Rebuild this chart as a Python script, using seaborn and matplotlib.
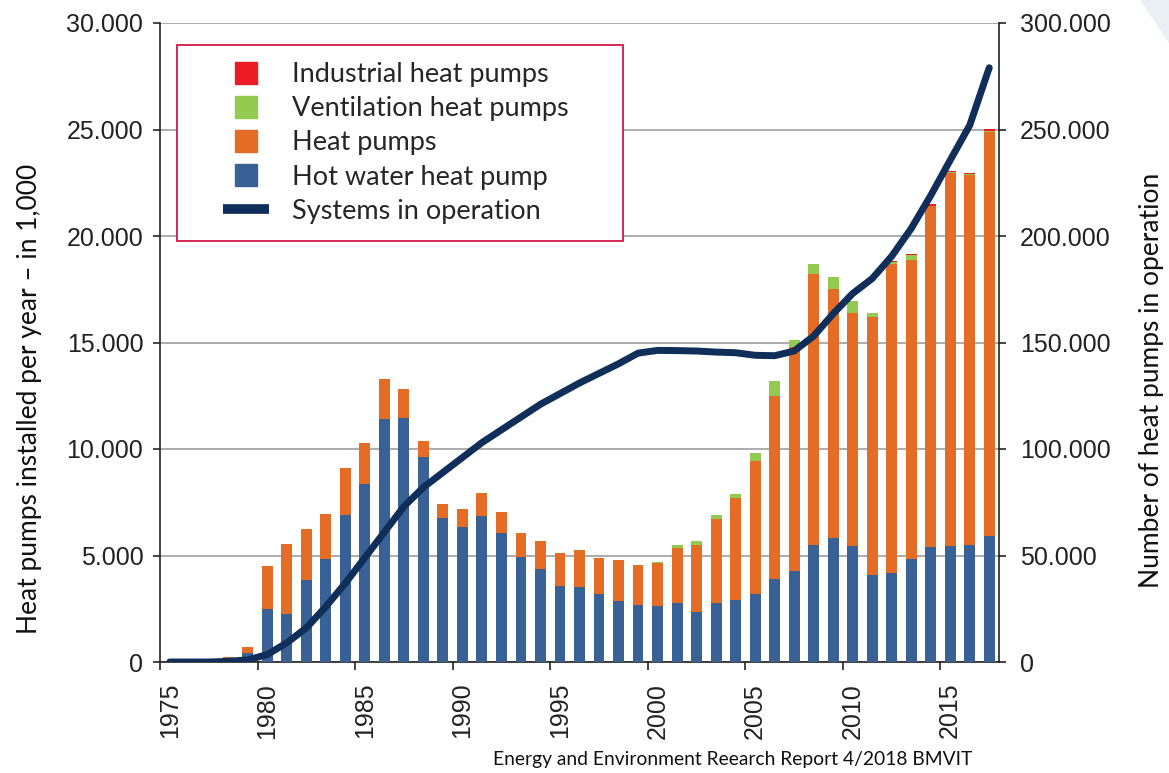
import numpy as np
import pandas as pd
import matplotlib
matplotlib.use("Agg")
import matplotlib.pyplot as plt
import seaborn as sns
from matplotlib.lines import Line2D
from matplotlib.patches import Rectangle, Polygon
from matplotlib.ticker import FuncFormatter, FixedLocator

# ---------------- data ----------------
years = list(range(1975, 2018))
hot_water = [0, 0, 0, 50, 400, 2500, 2270, 3830, 4820, 6920,
             8360, 11390, 11440, 9610, 6770, 6350, 6870, 6070, 4940, 4350,
             3570, 3540, 3190, 2860, 2680, 2630, 2780, 2360, 2760, 2900,
             3170, 3900, 4250, 5500, 5830, 5450, 4080, 4200, 4840, 5400,
             5450, 5500, 5920]
heat_pumps = [0, 0, 0, 200, 300, 2020, 3260, 2430, 2110, 2170,
              1940, 1900, 1380, 780, 630, 820, 1050, 970, 1100, 1330,
              1530, 1720, 1710, 1930, 1870, 2040, 2590, 3130, 3940, 4800,
              6250, 8600, 10540, 12710, 11690, 10940, 12100, 14500, 14030, 15990,
              17500, 17360, 18970]
ventilation = [0, 0, 0, 0, 0, 0, 0, 0, 0, 0,
               0, 0, 0, 0, 0, 0, 0, 0, 0, 0,
               0, 0, 0, 0, 0, 40, 140, 200, 190, 200,
               370, 680, 310, 490, 570, 570, 190, 100, 220, 40,
               40, 40, 60]
industrial = [0, 0, 0, 0, 0, 0, 0, 0, 0, 0,
              0, 0, 0, 0, 0, 0, 0, 0, 0, 0,
              0, 0, 0, 0, 0, 0, 0, 0, 0, 0,
              0, 0, 0, 0, 0, 0, 0, 40, 80, 50,
              50, 50, 60]
in_operation = [0, 0, 0, 300, 1000, 3500, 9000, 16000, 26000, 37000,
                49000, 61000, 73000, 82000, 89000, 96000, 103000, 109000, 115000, 121000,
                126000, 131000, 135500, 140000, 145000, 146300, 146200, 146000, 145500, 145200,
                144000, 143800, 146000, 153000, 163500, 173000, 180000, 190500, 203500, 219000,
                235600, 252000, 279000]

series_labels = ["Industrial heat pumps", "Ventilation heat pumps", "Heat pumps",
                 "Hot water heat pump", "Systems in operation"]
left_label = "Heat pumps installed per year \u2013 in 1,000"
right_label = "Number of heat pumps in operation"
source = "Energy and Environment Reearch Report 4/2018 BMVIT"

RED = "#EC1C24"
GREEN = "#92CA52"
ORANGE = "#E46C24"
BLUE = "#3A6196"
NAVY = "#0F2E59"

df = pd.DataFrame({
    "pos": np.array(years) + 0.5,
    "hw": hot_water, "hp": heat_pumps, "vent": ventilation, "ind": industrial,
    "op": in_operation,
})
df["t_blue"] = df["hw"]
df["t_orange"] = df["t_blue"] + df["hp"]
df["t_green"] = df["t_orange"] + df["vent"]
df["t_red"] = df["t_green"] + df["ind"]

# ---------------- figure ----------------
sns.set_style("white")
plt.rcParams["font.family"] = ["Liberation Sans", "DejaVu Sans"]

fig = plt.figure(figsize=(11.69, 7.73), dpi=100)
L, R, T, B = 160, 999, 23, 662
W, H = 1169, 773
ax = fig.add_axes([L / W, 1 - B / H, (R - L) / W, (B - T) / H])

for col, c in [("t_red", RED), ("t_green", GREEN), ("t_orange", ORANGE), ("t_blue", BLUE)]:
    sns.barplot(data=df, x="pos", y=col, native_scale=True, orient="x", color=c,
                saturation=1, width=0.56, errorbar=None, linewidth=0, ax=ax, zorder=3)

ax.set_xlim(1975, 2018)
ax.set_ylim(0, 30000)
ax.set_yticks(np.arange(0, 30001, 5000))
fmt = FuncFormatter(lambda v, p: "0" if v == 0 else f"{int(v):,}".replace(",", "."))
ax.yaxis.set_major_formatter(fmt)
ax.grid(axis="y", color="#A6A6A6", linewidth=1.3, zorder=0)
ax.grid(axis="x", visible=False)
ax.set_axisbelow(True)

ax.xaxis.set_major_locator(FixedLocator(list(range(1975, 2016, 5))))
ax.xaxis.set_minor_locator(FixedLocator([y + 0.5 for y in range(1975, 2016, 5)]))
ax.xaxis.set_major_formatter(FuncFormatter(lambda v, p: ""))
ax.xaxis.set_minor_formatter(FuncFormatter(lambda v, p: f"{int(v)}"))
ax.tick_params(axis="x", which="major", length=6, width=1.2, color="#222222", direction="out", bottom=True)
ax.tick_params(axis="x", which="minor", length=0, pad=15, labelsize=18, labelrotation=90,
               labelcolor="#222222", bottom=True)
ax.tick_params(axis="y", length=5, width=1.2, direction="out", pad=7, labelsize=18,
               labelcolor="#222222", left=True)
ax.set_xlabel("")
ax.set_ylabel("")
for s in ["top", "right"]:
    ax.spines[s].set_visible(False)
for s in ["left", "bottom"]:
    ax.spines[s].set_color("#222222")
    ax.spines[s].set_linewidth(1.2)

ax2 = ax.twinx()
sns.lineplot(data=df, x="pos", y="op", color=NAVY, linewidth=5, ax=ax2,
             solid_capstyle="round", solid_joinstyle="round", zorder=3)
ax2.set_ylim(0, 300000)
ax2.set_yticks(np.arange(0, 300001, 50000))
ax2.yaxis.set_major_formatter(fmt)
ax2.tick_params(axis="y", length=5, width=1.2, direction="out", pad=10, labelsize=18,
                labelcolor="#222222", right=True)
ax2.set_ylabel("")
ax2.set_xlabel("")
ax2.set_xlim(1975, 2018)
for s in ["top", "left", "bottom"]:
    ax2.spines[s].set_visible(False)
ax2.spines["right"].set_color("#222222")
ax2.spines["right"].set_linewidth(1.2)

# legend box
def axx(px):
    return (px - L) / (R - L)

def axy(py):
    return (B - py) / (B - T)

ax2.add_patch(Rectangle((axx(177), axy(241)), axx(623) - axx(177), axy(45) - axy(241),
                        transform=ax2.transAxes, facecolor="white", edgecolor="#D3174A",
                        linewidth=1.3, zorder=6, clip_on=False))
handles = [
    Line2D([], [], marker="s", markersize=16, linestyle="none", color=RED),
    Line2D([], [], marker="s", markersize=16, linestyle="none", color=GREEN),
    Line2D([], [], marker="s", markersize=16, linestyle="none", color=ORANGE),
    Line2D([], [], marker="s", markersize=16, linestyle="none", color=BLUE),
    Line2D([], [], color=NAVY, linewidth=7, solid_capstyle="butt"),
]
leg = ax2.legend(handles, series_labels, loc="upper left",
                 bbox_to_anchor=(axx(223), axy(62)), bbox_transform=ax2.transAxes,
                 frameon=False, borderpad=0, borderaxespad=0, handlelength=1.7,
                 handletextpad=0.85, labelspacing=0.34,
                 prop={"family": ["Lato", "DejaVu Sans"], "size": 19.5})
leg.set_zorder(7)

fig.text(30 / W, 1 - 399 / H, left_label, rotation=90, ha="center", va="center",
         fontsize=19, family=["Lato", "DejaVu Sans"], color="#111111")
fig.text(1152 / W, 1 - 380 / H, right_label, rotation=90, ha="center", va="center",
         fontsize=19, family=["Lato", "DejaVu Sans"], color="#111111")
fig.text(493 / W, 1 - 760 / H, source, ha="left", va="center",
         fontsize=13.9, family=["Lato", "DejaVu Sans"], color="#111111")

fig.patches.append(Polygon([(1140 / W, 1.0), (1.0, 1.0), (1.0, 1 - 43 / H)], closed=True,
                           transform=fig.transFigure, facecolor="#EAF0F4", edgecolor="none"))

fig.savefig("out.png", dpi=100)
